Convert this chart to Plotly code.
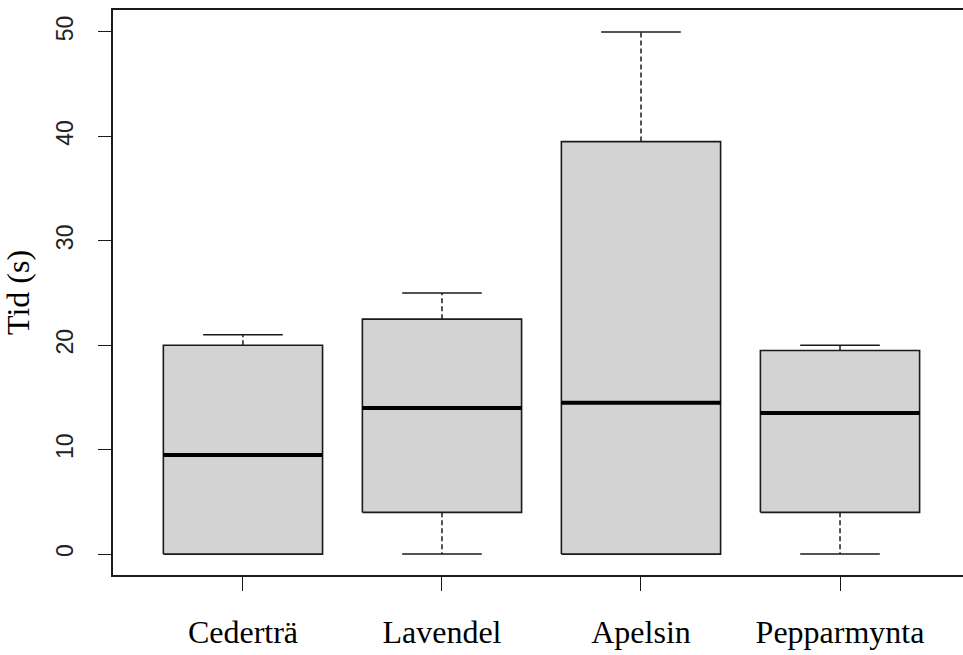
import plotly.graph_objects as go

# Box-plot summary statistics (seconds) per scent
categories = ["Cederträ", "Lavendel", "Apelsin", "Pepparmynta"]
lower_whisker = [0, 0, 0, 0]
q1 = [0, 4, 0, 4]
median = [9.5, 14, 14.5, 13.5]
q3 = [20, 22.5, 39.5, 19.5]
upper_whisker = [21, 25, 50, 20]
y_ticks = [0, 10, 20, 30, 40, 50]

BOX_HALF = 0.4      # half box width in category units
CAP_HALF = 0.2      # half staple width
LINE = "#1a1a1a"
FILL = "#D3D3D3"

fig = go.Figure()

for i, name in enumerate(categories):
    # whiskers (dashed)
    for a, b in ((q3[i], upper_whisker[i]), (q1[i], lower_whisker[i])):
        if a != b:
            fig.add_trace(go.Scatter(x=[i, i], y=[a, b], mode="lines",
                                     line=dict(color=LINE, width=1.5, dash="5px,3px"),
                                     hoverinfo="skip", showlegend=False))
    # staples
    for v in (upper_whisker[i], lower_whisker[i]):
        fig.add_trace(go.Scatter(x=[i - CAP_HALF, i + CAP_HALF], y=[v, v], mode="lines",
                                 line=dict(color=LINE, width=1.5),
                                 hoverinfo="skip", showlegend=False))
    # box
    fig.add_trace(go.Scatter(
        x=[i - BOX_HALF, i + BOX_HALF, i + BOX_HALF, i - BOX_HALF, i - BOX_HALF],
        y=[q1[i], q1[i], q3[i], q3[i], q1[i]],
        mode="lines", fill="toself", fillcolor=FILL,
        line=dict(color=LINE, width=1.6),
        name=name, showlegend=False))
    # median
    fig.add_trace(go.Scatter(x=[i - BOX_HALF, i + BOX_HALF], y=[median[i], median[i]],
                             mode="lines", line=dict(color="black", width=4),
                             hoverinfo="skip", showlegend=False))

fig.update_layout(
    width=963, height=655,
    margin=dict(l=113, r=0, t=10, b=80),
    paper_bgcolor="white", plot_bgcolor="white",
    showlegend=False,
)

fig.update_xaxes(
    range=[-0.653, 3.618],
    tickmode="array", tickvals=list(range(len(categories))), ticktext=categories,
    ticks="outside", ticklen=14, tickwidth=1.3, tickcolor=LINE,
    showline=True, linecolor=LINE, linewidth=1.6, mirror=True,
    showgrid=False, zeroline=False,
    tickfont=dict(family="Liberation Serif", size=32, color="black"),
    ticklabelstandoff=14,
)

fig.update_yaxes(
    range=[-2.0, 52.1],
    tickmode="array", tickvals=y_ticks,
    ticks="outside", ticklen=13, tickwidth=1.3, tickcolor=LINE,
    showline=True, linecolor=LINE, linewidth=1.6, mirror=False,
    showgrid=False, zeroline=False,
    tickangle=-90,
    tickfont=dict(family="Liberation Sans", size=23, color="#222"),
    ticklabelstandoff=16,
    title=dict(text="Tid (s)", font=dict(family="Liberation Serif", size=32, color="black"),
               standoff=14),
)

fig.write_html("out.html")
